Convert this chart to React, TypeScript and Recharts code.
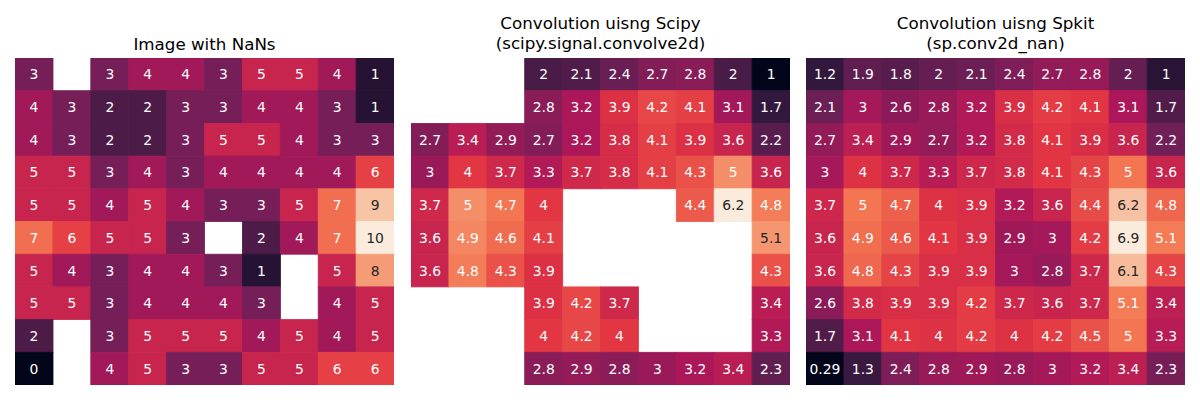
import { BarChart, Bar, XAxis, YAxis } from "recharts";

// values; null = NaN (blank cell)
const imageRows: (number | null)[][] = [
  [3, null, 3, 4, 4, 3, 5, 5, 4, 1],
  [4, 3, 2, 2, 3, 3, 4, 4, 3, 1],
  [4, 3, 2, 2, 3, 5, 5, 4, 3, 3],
  [5, 5, 3, 4, 3, 4, 4, 4, 4, 6],
  [5, 5, 4, 5, 4, 3, 3, 5, 7, 9],
  [7, 6, 5, 5, 3, null, 2, 4, 7, 10],
  [5, 4, 3, 4, 4, 3, 1, null, 5, 8],
  [5, 5, 3, 4, 4, 4, 3, null, 4, 5],
  [2, null, 3, 5, 5, 5, 4, 5, 4, 5],
  [0, null, 4, 5, 3, 3, 5, 5, 6, 6],
];

const scipyRows: (number | null)[][] = [
  [null, null, null, 2, 2.1, 2.4, 2.7, 2.8, 2, 1],
  [null, null, null, 2.8, 3.2, 3.9, 4.2, 4.1, 3.1, 1.7],
  [2.7, 3.4, 2.9, 2.7, 3.2, 3.8, 4.1, 3.9, 3.6, 2.2],
  [3, 4, 3.7, 3.3, 3.7, 3.8, 4.1, 4.3, 5, 3.6],
  [3.7, 5, 4.7, 4, null, null, null, 4.4, 6.2, 4.8],
  [3.6, 4.9, 4.6, 4.1, null, null, null, null, null, 5.1],
  [3.6, 4.8, 4.3, 3.9, null, null, null, null, null, 4.3],
  [null, null, null, 3.9, 4.2, 3.7, null, null, null, 3.4],
  [null, null, null, 4, 4.2, 4, null, null, null, 3.3],
  [null, null, null, 2.8, 2.9, 2.8, 3, 3.2, 3.4, 2.3],
];

const spkitRows: (number | null)[][] = [
  [1.2, 1.9, 1.8, 2, 2.1, 2.4, 2.7, 2.8, 2, 1],
  [2.1, 3, 2.6, 2.8, 3.2, 3.9, 4.2, 4.1, 3.1, 1.7],
  [2.7, 3.4, 2.9, 2.7, 3.2, 3.8, 4.1, 3.9, 3.6, 2.2],
  [3, 4, 3.7, 3.3, 3.7, 3.8, 4.1, 4.3, 5, 3.6],
  [3.7, 5, 4.7, 4, 3.9, 3.2, 3.6, 4.4, 6.2, 4.8],
  [3.6, 4.9, 4.6, 4.1, 3.9, 2.9, 3, 4.2, 6.9, 5.1],
  [3.6, 4.8, 4.3, 3.9, 3.9, 3, 2.8, 3.7, 6.1, 4.3],
  [2.6, 3.8, 3.9, 3.9, 4.2, 3.7, 3.6, 3.7, 5.1, 3.4],
  [1.7, 3.1, 4.1, 4, 4.2, 4, 4.2, 4.5, 5, 3.3],
  [0.29, 1.3, 2.4, 2.8, 2.9, 2.8, 3, 3.2, 3.4, 2.3],
];

const columns = ["0", "1", "2", "3", "4", "5", "6", "7", "8", "9"];
const rowKeys = ["r0", "r1", "r2", "r3", "r4", "r5", "r6", "r7", "r8", "r9"];

// seaborn "rocket" colormap stops
const rocket: [number, [number, number, number]][] = [
  [0, [3, 5, 26]],
  [1 / 7, [53, 25, 62]],
  [2 / 7, [112, 31, 87]],
  [3 / 7, [173, 23, 89]],
  [4 / 7, [225, 51, 66]],
  [5 / 7, [243, 118, 81]],
  [6 / 7, [246, 180, 143]],
  [1, [250, 235, 221]],
];

function rocketColor(t: number): [number, number, number] {
  const v = Math.max(0, Math.min(1, t));
  for (let i = 1; i < rocket.length; i++) {
    const [t1, c1] = rocket[i];
    const [t0, c0] = rocket[i - 1];
    if (v <= t1) {
      const f = (v - t0) / (t1 - t0);
      return [0, 1, 2].map((k) => Math.round(c0[k] + (c1[k] - c0[k]) * f)) as [number, number, number];
    }
  }
  return rocket[rocket.length - 1][1];
}

function luminance(rgb: [number, number, number]) {
  const lin = rgb.map((c) => {
    const s = c / 255;
    return s <= 0.03928 ? s / 12.92 : Math.pow((s + 0.055) / 1.055, 2.4);
  });
  return 0.2126 * lin[0] + 0.7152 * lin[1] + 0.0722 * lin[2];
}

const FONT = "'DejaVu Sans', sans-serif";
const W = 379;
const H = 327;

function Heatmap({ rows }: { rows: (number | null)[][] }) {
  const all = rows.flat().filter((v): v is number => v !== null);
  const vmin = Math.min(...all);
  const vmax = Math.max(...all);

  const data = columns.map((col, c) => {
    const o: Record<string, any> = { col };
    rowKeys.forEach((k, r) => {
      o[k] = 1;
      o["v" + k] = rows[r][c];
    });
    return o;
  });

  const cellShape = (props: any, key: string) => {
    const value = props.payload?.["v" + key];
    if (value === null || value === undefined) return <g />;
    const y = Math.min(props.y, props.y + props.height);
    const h = Math.abs(props.height);
    const rgb = rocketColor((value - vmin) / (vmax - vmin));
    const fill = `rgb(${rgb.join(",")})`;
    const text = luminance(rgb) > 0.408 ? "#262626" : "#ffffff";
    return (
      <g>
        <rect x={props.x} y={y} width={props.width} height={h} fill={fill} stroke={fill} strokeWidth={0.8} />
        <text x={props.x + props.width / 2} y={y + h / 2} dy="0.36em" textAnchor="middle" fill={text} fontSize={13.9} fontFamily={FONT}>
          {String(value)}
        </text>
      </g>
    );
  };

  return (
    <BarChart width={W} height={H} data={data} margin={{ top: 0, right: 0, bottom: 0, left: 0 }} barCategoryGap={0} barGap={0}>
      <XAxis dataKey="col" hide />
      <YAxis hide type="number" domain={[0, 10]} reversed allowDataOverflow />
      {rowKeys.map((k) => (
        <Bar key={k} dataKey={k} stackId="grid" isAnimationActive={false} shape={(p: any) => cellShape(p, k)} />
      ))}
    </BarChart>
  );
}

const titleStyle: React.CSSProperties = {
  position: "absolute",
  width: W,
  textAlign: "center",
  fontFamily: FONT,
  fontSize: 16.7,
  lineHeight: "20px",
  color: "#000",
  whiteSpace: "pre",
};

export default function App() {
  return (
    <div style={{ position: "relative", width: 1184, height: 384 }}>
      <div style={{ ...titleStyle, left: 7, top: 26 }}>Image with NaNs</div>
      <div style={{ ...titleStyle, left: 403, top: 5 }}>{"Convolution uisng Scipy\n(scipy.signal.convolve2d)"}</div>
      <div style={{ ...titleStyle, left: 798, top: 5 }}>{"Convolution uisng Spkit\n(sp.conv2d_nan)"}</div>
      <div style={{ position: "absolute", left: 7, top: 50 }}>
        <Heatmap rows={imageRows} />
      </div>
      <div style={{ position: "absolute", left: 403, top: 50 }}>
        <Heatmap rows={scipyRows} />
      </div>
      <div style={{ position: "absolute", left: 798, top: 50 }}>
        <Heatmap rows={spkitRows} />
      </div>
    </div>
  );
}
